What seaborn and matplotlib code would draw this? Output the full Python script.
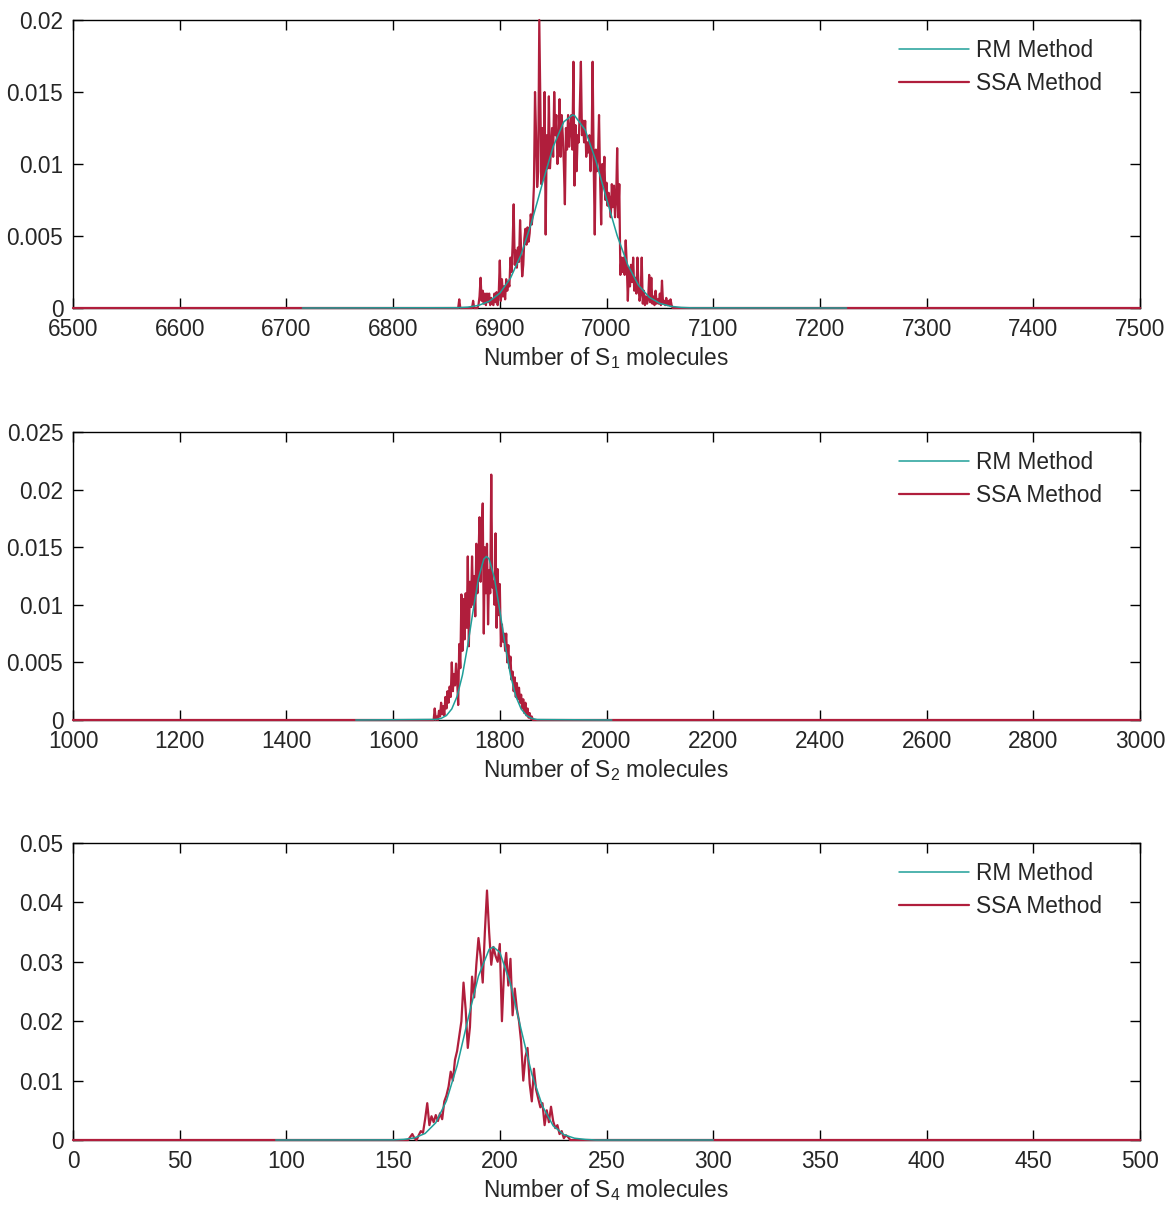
import numpy as np
import pandas as pd
import matplotlib
matplotlib.use("Agg")
import matplotlib.pyplot as plt
import seaborn as sns
from matplotlib.ticker import FuncFormatter

# ---------------- data (probabilities in units of 1e-3) ----------------
# Panel 1: S1
s1_ssa_start = 6860          # first molecule count of the SSA histogram (step 1)
s1_ssa_milli = [
    0, 0, 0.6, 0, 0, 0, 0, 0, 0, 0,                          # 6860
    0, 0, 0, 0, 0, 0.5, 0, 0, 0, 0,                          # 6870
    0.2, 0.8, 2.1, 0.5, 1.2, 0.3, 1.0, 0.2, 1.0, 0.4,        # 6880
    1.0, 0.2, 0.7, 0.3, 0.2, 1.0, 0.4, 1.1, 0.2, 1.0,        # 6890
    3.3, 0.5, 2.0, 0.8, 1.5, 0.6, 2.0, 1.2, 1.8, 1.5,        # 6900
    3.5, 2.5, 4.4, 7.2, 3.0, 4.0, 2.8, 4.2, 3.2, 6.1,        # 6910
    4.0, 2.2, 3.0, 4.8, 5.5, 4.4, 5.6, 4.6, 5.2, 6.5,        # 6920
    5.8, 6.7, 8.5, 15.0, 12.0, 8.4, 9.5, 20.0, 14.4, 8.6,    # 6930
    12.5, 9.0, 15.0, 5.1, 12.0, 9.7, 14.7, 9.7, 11.0, 12.5,  # 6940
    10.5, 15.0, 12.0, 13.4, 10.0, 11.0, 14.5, 10.5, 13.4, 12.0,  # 6950
    10.0, 7.2, 12.5, 11.0, 13.4, 11.2, 12.5, 13.4, 11.0, 17.1,   # 6960
    8.5, 12.7, 9.5, 12.0, 11.5, 14.0, 17.1, 12.0, 13.0, 11.5,    # 6970
    13.0, 10.5, 11.5, 10.8, 12.0, 9.5, 11.0, 17.1, 10.0, 5.1,    # 6980
    11.0, 9.5, 10.5, 13.4, 9.0, 5.8, 10.0, 8.5, 10.5, 7.5,       # 6990
    8.7, 7.1, 8.0, 7.5, 6.3, 8.6, 7.0, 8.5, 6.3, 7.5,            # 7000
    11.1, 6.3, 8.6, 2.3, 3.5, 2.5, 3.5, 2.3, 4.7, 3.0,           # 7010
    0.5, 2.8, 1.5, 3.0, 1.8, 3.5, 1.2, 2.1, 1.0, 3.5,            # 7020
    1.5, 0.5, 1.0, 3.5, 0.3, 1.2, 0.2, 0.8, 0.3, 0.6,            # 7030
    2.3, 0.4, 2.1, 0.3, 0.8, 0.2, 1.2, 0.3, 0.6, 0.3,            # 7040
    1.0, 0.2, 1.9, 0.3, 0.5, 0.2, 0.7, 0.2, 0.5, 0.2,            # 7050
    0.6, 0.2, 0,                                                 # 7060
]
s1_rm_x = [6715, 6860, 6870, 6880, 6890, 6900, 6910, 6920, 6930, 6940, 6950,
           6960, 6968, 6970, 6980, 6990, 7000, 7010, 7020, 7030, 7040, 7050,
           7060, 7070, 7080, 7225]
s1_rm_milli = [0, 0.02, 0.06, 0.18, 0.46, 1.03, 2.07, 3.72, 6.0, 8.67, 11.2,
               12.93, 13.4, 13.37, 12.37, 10.24, 7.59, 5.03, 2.98, 1.58, 0.75,
               0.32, 0.12, 0.04, 0.01, 0]

# Panel 2: S2
s2_ssa_start = 1676          # step 2
s2_ssa_milli = [
    0, 1.0, 0, 0.3, 0, 0.8, 0.3, 1.5, 0.5, 1.2,              # 1676
    0.4, 2.0, 1.0, 2.5, 1.5, 2.9, 2.0, 5.0, 2.5, 4.0,        # 1696
    3.0, 4.9, 3.5, 1.3, 6.6, 4.5, 10.9, 6.0, 10.5, 7.0,      # 1716
    11.0, 8.0, 14.2, 6.4, 12.0, 9.8, 14.2, 10.0, 12.5, 9.0,  # 1736
    15.3, 11.0, 14.0, 17.6, 12.0, 16.0, 18.8, 7.5, 15.0, 11.0,   # 1756
    15.3, 8.3, 13.0, 11.0, 21.3, 11.5, 12.0, 10.0, 16.2, 8.0,    # 1776
    13.1, 9.1, 11.8, 6.4, 8.3, 6.8, 7.5, 6.0, 7.5, 5.0,          # 1796
    6.5, 4.5, 5.5, 3.5, 4.2, 2.5, 3.7, 2.0, 3.2, 1.8,            # 1816
    2.8, 1.5, 2.2, 1.0, 1.8, 0.6, 1.5, 0.4, 1.0, 0.2,            # 1836
    0.6, 0.1, 0.3, 0,                                            # 1856
]
s2_rm_x = [1530, 1680, 1690, 1700, 1710, 1720, 1730, 1740, 1750, 1760, 1770,
           1775, 1780, 1790, 1800, 1810, 1820, 1830, 1840, 1850, 1860, 1870, 2010]
s2_rm_milli = [0, 0.05, 0.14, 0.39, 0.96, 2.06, 3.9, 6.5, 9.5, 12.3, 13.97,
               14.2, 13.97, 12.3, 9.5, 6.5, 3.9, 2.06, 0.96, 0.39, 0.14, 0.04, 0]

# Panel 3: S4
s4_ssa_start = 155           # step 1
s4_ssa_milli = [
    0, 0, 0, 0.5, 1.0, 0.3, 0, 0.8, 1.5, 1.2,                # 155
    3.5, 6.2, 2.5, 4.0, 3.0, 4.2, 3.2, 4.5, 3.5, 6.5,        # 165
    7.5, 9.0, 11.5, 10.0, 13.5, 15.0, 17.5, 20.0, 26.5, 22.0,    # 175
    15.5, 19.0, 27.5, 24.0, 29.5, 34.0, 31.0, 26.5, 35.0, 42.0,  # 185
    35.0, 29.5, 32.5, 31.0, 30.0, 33.0, 20.0, 28.5, 31.5, 26.0,  # 195
    30.5, 21.0, 25.5, 22.0, 20.0, 16.5, 10.0, 14.0, 15.5, 9.5,   # 205
    6.5, 12.0, 8.5, 7.0, 5.5, 6.2, 2.5, 5.0, 3.0, 5.6,           # 215
    3.2, 2.0, 2.5, 1.0, 1.5, 0.3, 0.8, 0.5, 0, 0, 0,             # 225
]
s4_rm_x = [95, 150, 155, 160, 165, 170, 175, 180, 185, 190, 195, 197, 200,
           205, 210, 215, 220, 225, 230, 235, 240, 245, 300]
s4_rm_milli = [0, 0.02, 0.1, 0.35, 1.1, 2.9, 6.6, 12.5, 20.2, 27.6, 32.1, 32.5,
               31.6, 26.3, 18.6, 11.1, 5.7, 2.4, 0.9, 0.3, 0.1, 0.0, 0]

xlims = [(6500, 7500), (1000, 3000), (0, 500)]
ylims = [(0, 0.02), (0, 0.025), (0, 0.05)]
xtick_steps = [100, 200, 50]
ytick_steps = [0.005, 0.005, 0.01]
xlabels = [r"Number of S$_1$ molecules", r"Number of S$_2$ molecules",
           r"Number of S$_4$ molecules"]
ssa_steps = [1, 2, 1]

# ---------------- style ----------------
sns.set_theme(style="white")
plt.rcParams['font.family'] = ['Liberation Sans', 'DejaVu Sans']
plt.rcParams['mathtext.default'] = 'regular'

RM_COLOR = '#1f9f99'
SSA_COLOR = '#b01e3c'
TXT = '#262626'
FS = 16.3

fig = plt.figure(figsize=(11.69, 12.09), dpi=100)
W, H = 1169.0, 1209.0
boxes = [(73, 20, 1140, 308), (73, 432, 1140, 720), (73, 843, 1140, 1140)]

panels = [
    (s1_ssa_start, s1_ssa_milli, s1_rm_x, s1_rm_milli),
    (s2_ssa_start, s2_ssa_milli, s2_rm_x, s2_rm_milli),
    (s4_ssa_start, s4_ssa_milli, s4_rm_x, s4_rm_milli),
]

for i, (start, ssa_m, rm_x, rm_m) in enumerate(panels):
    l, t, r, b = boxes[i]
    ax = fig.add_axes([l / W, 1 - b / H, (r - l) / W, (b - t) / H])
    x0, x1 = xlims[i]
    ssa_x = np.concatenate([[x0], start + ssa_steps[i] * np.arange(len(ssa_m)), [x1]])
    ssa_y = np.concatenate([[0.0], np.array(ssa_m) * 1e-3, [0.0]])
    df_ssa = pd.DataFrame({"x": ssa_x, "y": ssa_y})
    df_rm = pd.DataFrame({"x": rm_x, "y": np.array(rm_m) * 1e-3})

    sns.lineplot(data=df_ssa, x="x", y="y", ax=ax, color=SSA_COLOR, linewidth=1.6,
                 estimator=None, sort=False, label="SSA Method", zorder=3,
                 clip_on=False)
    sns.lineplot(data=df_rm, x="x", y="y", ax=ax, color=RM_COLOR, linewidth=1.1,
                 estimator=None, sort=False, label="RM Method", zorder=4,
                 clip_on=False)

    ax.set_xlim(*xlims[i])
    ax.set_ylim(*ylims[i])
    ax.set_xticks(np.arange(x0, x1 + 1e-9, xtick_steps[i]))
    y0, y1 = ylims[i]
    ax.set_yticks(np.arange(y0, y1 + 1e-12, ytick_steps[i]))
    ax.yaxis.set_major_formatter(FuncFormatter(lambda v, p: "%g" % round(v, 6)))
    ax.xaxis.set_major_formatter(FuncFormatter(lambda v, p: "%g" % v))
    ax.tick_params(axis="both", which="major", direction="in", length=7, width=1,
                   top=True, right=True, bottom=True, left=True,
                   labelsize=FS, color="black", labelcolor=TXT, pad=7)
    for s in ax.spines.values():
        s.set_visible(True)
        s.set_color("black")
        s.set_linewidth(1.0)
    ax.set_xlabel(xlabels[i], fontsize=FS, labelpad=3, color=TXT)
    ax.set_ylabel("")
    handles, labels = ax.get_legend_handles_labels()
    leg = ax.legend(handles[::-1], labels[::-1], loc="upper right", frameon=False,
                    fontsize=FS, handlelength=3.1, handletextpad=0.3,
                    labelspacing=0.42, bbox_to_anchor=(0.982, 1.0), borderaxespad=0.45)
    for txt in leg.get_texts():
        txt.set_color(TXT)

fig.savefig("out.png", dpi=100, facecolor="white")
